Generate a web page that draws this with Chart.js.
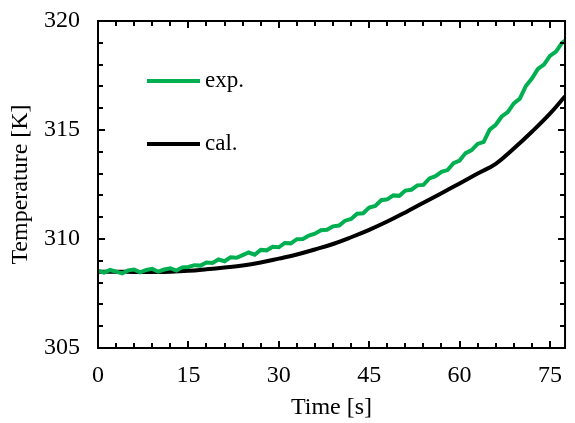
<!DOCTYPE html>
<html>
<head>
<meta charset="utf-8">
<script src="https://cdn.jsdelivr.net/npm/chart.js@4.4.1/dist/chart.umd.min.js"></script>
<style>
  html, body { margin: 0; padding: 0; background: #fff; }
  #wrap { width: 575px; height: 423px; }
</style>
</head>
<body>
<div id="wrap"><canvas id="tempChart" width="575" height="423"></canvas></div>
<script>
// measured temperature (exp.)
var timeExp = [0, 1, 2, 3, 4, 5, 6, 7, 8, 9, 10, 11, 12, 13, 14, 15, 16, 17, 18, 19,
    20, 21, 22, 23, 24, 25, 26, 27, 28, 29, 30, 31, 32, 33, 34, 35, 36, 37, 38, 39,
    40, 41, 42, 43, 44, 45, 46, 47, 48, 49, 50, 51, 52, 53, 54, 55, 56, 57, 58, 59,
    60, 61, 62, 63, 64, 65, 66, 67, 68, 69, 70, 71, 72, 73, 74, 75, 76, 77, 77.5];
var tempExp = [308.55, 308.46, 308.58, 308.50, 308.42, 308.56, 308.60, 308.47, 308.58, 308.63,
    308.50, 308.60, 308.66, 308.55, 308.70, 308.72, 308.80, 308.78, 308.92, 308.90,
    309.06, 308.98, 309.16, 309.14, 309.26, 309.38, 309.28, 309.50, 309.48, 309.64,
    309.62, 309.82, 309.80, 309.99, 310.00, 310.16, 310.24, 310.40, 310.42, 310.58,
    310.62, 310.84, 310.92, 311.16, 311.18, 311.44, 311.52, 311.78, 311.82, 312.00,
    311.98, 312.22, 312.26, 312.46, 312.48, 312.78, 312.88, 313.08, 313.16, 313.48,
    313.60, 313.94, 314.08, 314.36, 314.46, 315.02, 315.24, 315.62, 315.82, 316.22,
    316.44, 317.02, 317.36, 317.80, 318.00, 318.40, 318.60, 319.00, 319.10];

// calculated temperature (cal.)
var timeCal = [0, 3, 6, 9, 12, 15, 18, 21, 24, 27, 30, 33, 36, 39, 42, 45, 48, 51, 54,
    57, 60, 63, 66, 69, 72, 75, 77.5];
var tempCal = [308.50, 308.50, 308.49, 308.49, 308.50, 308.54, 308.61, 308.69, 308.78,
    308.92, 309.10, 309.29, 309.52, 309.77, 310.08, 310.42, 310.80, 311.22, 311.66,
    312.10, 312.55, 313.00, 313.45, 314.15, 314.92, 315.75, 316.55];

var seriesNames = ['exp.', 'cal.'];
var xTicks = [0, 15, 30, 45, 60, 75];
var yTicks = [305, 310, 315, 320];

var serif = "'Liberation Serif', 'Times New Roman', serif";

function toPoints(xs, ys) {
    return xs.map(function (x, i) { return { x: x, y: ys[i] }; });
}

// inward tick marks on all four sides + frame
var frameTicks = {
    id: 'frameTicks',
    afterDatasetsDraw: function (chart) {
        var ctx = chart.ctx;
        var a = chart.chartArea;
        var xs = chart.scales.x, ys = chart.scales.y;
        ctx.save();
        ctx.strokeStyle = '#000';
        ctx.lineWidth = 2;
        ctx.beginPath();
        for (var t = 0; t <= xs.max + 0.001; t += 3) {
            var px = Math.round(xs.getPixelForValue(t));
            var len = (t % 15 === 0) ? 7 : 5;
            ctx.moveTo(px, a.bottom); ctx.lineTo(px, a.bottom - len);
            ctx.moveTo(px, a.top); ctx.lineTo(px, a.top + len);
        }
        for (var v = ys.min; v <= ys.max + 0.001; v += 1) {
            var py = Math.round(ys.getPixelForValue(v));
            var l2 = (v % 5 === 0) ? 7 : 5;
            ctx.moveTo(a.left, py); ctx.lineTo(a.left + l2, py);
            ctx.moveTo(a.right, py); ctx.lineTo(a.right - l2, py);
        }
        ctx.stroke();
        ctx.strokeRect(a.left, a.top, a.right - a.left, a.bottom - a.top);
        ctx.restore();
    }
};

// legend drawn inside the plot, upper left
var innerLegend = {
    id: 'innerLegend',
    afterDraw: function (chart) {
        var ctx = chart.ctx;
        var rows = [81, 144];
        ctx.save();
        ctx.font = '23px ' + serif;
        ctx.textBaseline = 'middle';
        ctx.fillStyle = '#000';
        chart.data.datasets.forEach(function (ds, i) {
            var y = rows[i];
            ctx.strokeStyle = ds.borderColor;
            ctx.lineWidth = 4;
            ctx.beginPath();
            ctx.moveTo(147, y); ctx.lineTo(200, y);
            ctx.stroke();
            ctx.fillText(ds.label, 205, y);
        });
        ctx.restore();
    }
};

var ctxLine = document.getElementById('tempChart');
var lineChart = new Chart(ctxLine, {
    type: 'line',
    data: {
        datasets: [
            {
                label: seriesNames[0],
                data: toPoints(timeExp, tempExp),
                borderColor: '#00b050',
                borderWidth: 4,
                pointRadius: 0,
                tension: 0
            },
            {
                label: seriesNames[1],
                data: toPoints(timeCal, tempCal),
                borderColor: '#000000',
                borderWidth: 4,
                pointRadius: 0,
                tension: 0.4
            }
        ]
    },
    options: {
        responsive: false,
        animation: false,
        layout: { padding: { top: 21, right: 1, left: 0, bottom: 0 } },
        plugins: {
            legend: { display: false },
            tooltip: { enabled: false }
        },
        scales: {
            x: {
                type: 'linear',
                min: 0,
                max: 77.5,
                afterBuildTicks: function (s) { s.ticks = xTicks.map(function (v) { return { value: v }; }); },
                afterFit: function (s) { s.height = 75; },
                grid: { display: false, drawTicks: false },
                border: { display: false },
                ticks: { color: '#000', padding: 13, font: { family: serif, size: 24 } },
                title: {
                    display: true,
                    text: 'Time [s]',
                    color: '#000',
                    padding: { top: 0, bottom: 1 },
                    font: { family: serif, size: 24 }
                }
            },
            y: {
                min: 305,
                max: 320,
                afterBuildTicks: function (s) { s.ticks = yTicks.map(function (v) { return { value: v }; }); },
                afterFit: function (s) { s.width = 98; s.paddingTop = 0; s.paddingBottom = 0; },
                grid: { display: false, drawTicks: false },
                border: { display: false },
                ticks: { color: '#000', padding: 18, font: { family: serif, size: 24 } },
                title: {
                    display: true,
                    text: 'Temperature [K]',
                    color: '#000',
                    padding: { top: 6, bottom: 0 },
                    font: { family: serif, size: 24 }
                }
            }
        }
    },
    plugins: [frameTicks, innerLegend]
});
</script>
</body>
</html>
